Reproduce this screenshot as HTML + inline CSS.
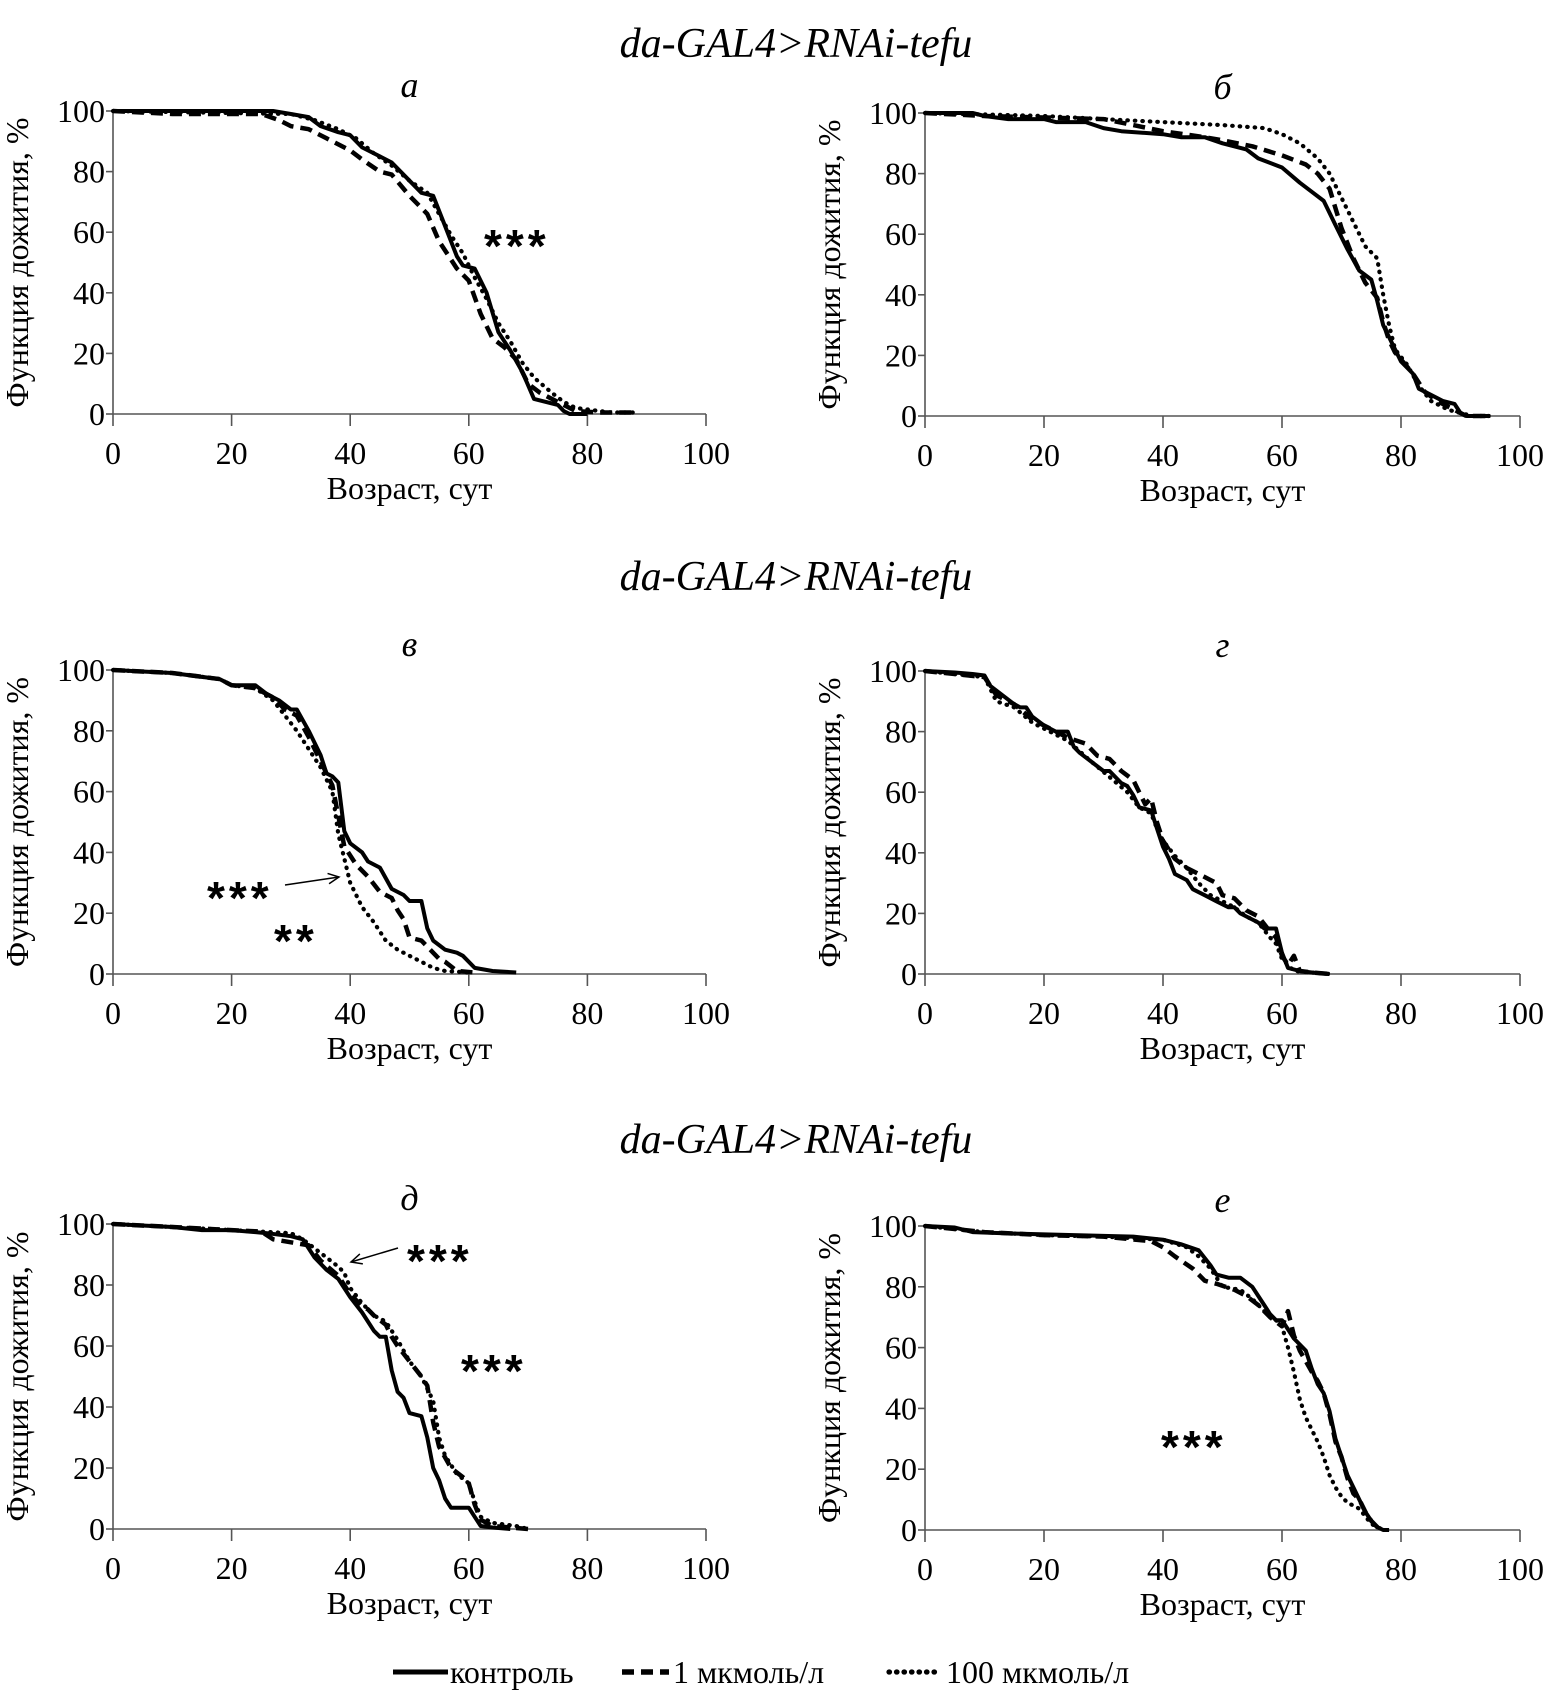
<!DOCTYPE html>
<html><head><meta charset="utf-8"><style>
html,body{margin:0;padding:0;background:#fff;}
svg{display:block;font-family:"Liberation Serif",serif;}
</style></head><body>
<svg id="fig" width="1549" height="1691" viewBox="0 0 1549 1691"></svg>
<script>
// ---- data (age in days, survival %) ----
const xTicks=[0,20,40,60,80,100];
const yTicks=[0,20,40,60,80,100];
// panel a
const a_ctrl_x=[0,27,30,33,35,38,40,42,45,47,50,52,54,56,58,59,61,63,65,67,69,71,73,75,76,77,80];
const a_ctrl_y=[100,100,99,98,95,93,92,88,85,83,77,73,72,62,52,49,48,40,27,21,14,5,4,3,1,0,0];
const a_d1_x=[0,10,25,28,30,33,36,40,42,45,47,50,53,55,58,60,62,64,66,68,70,72,75,78,82,88];
const a_d1_y=[100,99,99,97,95,94,91,87,84,80,79,72,66,57,48,44,33,25,22,18,10,7,4,1,0.5,0.5];
const a_d100_x=[0,30,34,38,41,44,47,50,53,55,57,59,61,63,65,67,69,71,74,76,78,82,84,88];
const a_d100_y=[100,99,97,94,91,86,82,77,73,66,59,53,45,38,30,24,17,12,7,4,2,1,0.5,0.5];
// panel б
const b_ctrl_x=[0,8,10,14,20,22,27,30,33,40,43,47,50,54,56,60,63,65,67,69,71,73,75,76,77,79,80,82,83,85,87,89,90,91,95];
const b_ctrl_y=[100,100,99,98,98,97,97,95,94,93,92,92,90,88,85,82,77,74,71,63,55,48,45,38,30,22,18,14,9,7,5,4,1,0,0];
const b_d1_x=[0,10,20,30,35,40,47,50,55,60,64,66,68,70,72,74,76,77,78,79,82,84,86,88,90,91,95];
const b_d1_y=[100,99,98.5,98,96,94,92,91,89,86,83,80,75,62,52,44,39,31,25,21,14,8,5,3,1,0,0];
const b_d100_x=[0,10,20,30,40,50,57,60,63,66,68,70,72,74,76,77,78,79,81,83,85,88,90,92,95];
const b_d100_y=[100,99.5,99,98,97,96,95,93,90,85,80,72,64,56,52,40,30,22,17,10,5,2,1,0,0];
// panel в
const c_ctrl_x=[0,10,14,18,20,24,26,28,30,31,33,35,36,37,38,39,40,42,43,45,47,49,50,52,53,54,56,58,59,61,64,68];
const c_ctrl_y=[100,99,98,97,95,95,92,90,87,87,80,72,66,65,63,47,43,40,37,35,28,26,24,24,15,11,8,7,6,2,1,0.5];
const c_d1_x=[0,10,18,20,24,27,29,31,33,35,37,38,39,41,43,45,47,48,49,50,52,53,55,56,58,61];
const c_d1_y=[100,99,97,95,94,91,87,85,78,70,62,52,42,36,32,27,25,21,18,12,11,9,5,4,1,0.5];
const c_d100_x=[0,10,18,20,24,27,29,31,33,35,37,38,39,40,42,44,46,48,50,52,54,56,60];
const c_d100_y=[100,99,97,95,94,90,85,80,74,68,60,46,38,30,22,17,11,8,6,4,2,1,0.5];
// panel г
const d_ctrl_x=[0,5,8,10,11,13,15,16,17,18,20,22,24,25,26,28,30,31,33,34,35,36,38,39,40,41,42,44,45,47,49,51,52,53,55,56,57,59,60,61,63,65,68];
const d_ctrl_y=[100,99.5,99,98.5,95,92,89,88,88,85,82,80,80,75,73,70,67,67,63,62,59,55,54,48,42,38,33,31,28,26,24,22,22,20,18,17,15,15,7,2,1,0.5,0];
const d_d1_x=[0,10,12,15,18,20,24,27,29,31,33,35,36,37,38,39,40,42,44,46,48,49,50,52,54,56,58,59,60,61,62,63,65,68];
const d_d1_y=[100,98,92,89,84,82,78,76,72,71,67,64,60,56,58,50,44,38,35,33,31,30,26,25,21,19,14,12,6,3,6,1,0.5,0];
const d_d100_x=[0,10,12,15,18,20,24,28,31,34,36,38,39,40,42,44,46,48,50,52,54,56,58,59,60,62,65,68];
const d_d100_y=[100,98,90,88,83,81,77,70,65,60,55,53,48,44,39,35,30,26,24,22,19,17,12,10,5,1,0.5,0];
// panel д
const e_ctrl_x=[0,10,15,20,26,30,32,33,34,36,38,40,42,44,45,46,47,48,49,50,52,53,54,55,56,57,60,61,62,64,67];
const e_ctrl_y=[100,99,98,98,97,96,95,92,89,85,82,76,71,65,63,63,52,45,43,38,37,30,20,16,10,7,7,4,1,0.5,0];
const e_d1_x=[0,10,20,25,27,30,33,35,38,40,42,43,44,46,47,48,50,52,53,54,55,57,59,60,61,62,64,67,70];
const e_d1_y=[100,99,98,97.5,95,94,93,88,83,77,73,72,70,67,63,60,55,50,47,35,27,20,17,15,8,3,1,0.5,0];
const e_d100_x=[0,10,20,30,32,34,36,38,39,40,42,44,46,48,50,52,54,55,56,58,60,61,62,64,68,70];
const e_d100_y=[100,99,98,97,95,92,89,86,84,79,74,70,68,62,55,50,42,30,24,18,15,9,4,2,1,0];
// panel е
const f_ctrl_x=[0,5,8,15,25,35,40,43,46,48,49,51,53,55,56,57,58,59,60,61,62,64,65,66,67,68,69,70,71,72,73,74,75,76,77,78];
const f_ctrl_y=[100,99.5,98,97.5,97,96.5,95.5,94,92,87,84,83,83,80,77,74,71,69,69,66,63,59,53,48,45,39,30,24,18,14,10,6,3,1,0,0];
const f_d1_x=[0,10,20,30,38,40,42,45,47,49,52,54,56,58,60,61,62,63,65,66,67,68,69,70,71,72,73,74,75,76,77];
const f_d1_y=[100,98,97,96.5,95,93,90,86,82,81,79,77,74,70,67,72,64,59,52,49,45,38,29,24,17,12,10,6,3,1,0];
const f_d100_x=[0,10,20,30,40,44,46,48,50,53,55,57,59,60,61,62,63,64,65,66,67,68,69,70,71,72,73,75,77];
const f_d100_y=[100,98,97,96.5,95.5,93,90,86,80,79,76,72,69,67,60,52,43,37,33,29,24,18,14,11,9,8,7,2,0];

const NS="http://www.w3.org/2000/svg";
const svg=document.getElementById('fig');
function mk(tag,attrs,parent){const e=document.createElementNS(NS,tag);for(const k in attrs)e.setAttribute(k,attrs[k]);(parent||svg).appendChild(e);return e;}
function txt(s,x,y,attrs,parent){const t=mk('text',Object.assign({x:x,y:y},attrs),parent);t.textContent=s;return t;}

const styles={ctrl:{w:4,dash:null,cap:'butt'},d1:{w:4.5,dash:'12 7',cap:'butt'},d100:{w:4.2,dash:'0.5 7',cap:'round'}};

function panel(name,letter,X0,X1,Y100,Y0,series){
  const g=mk('g',{});
  
  
  const sx=v=>X0+(X1-X0)*v/100, sy=v=>Y0-(Y0-Y100)*v/100;
  const lt=txt(letter,(X0+X1)/2,Y100-14,{'font-size':36,'font-style':'italic','text-anchor':'middle'},g);
  
  
  const ya=mk('line',{x1:X0,y1:Y100,x2:X0,y2:Y0,stroke:'#555','stroke-width':1.6},g);
  
  
  const xa=mk('line',{x1:X0,y1:Y0,x2:X1,y2:Y0,stroke:'#555','stroke-width':1.6},g);
  
  
  xTicks.forEach(v=>{
    const tk=mk('line',{x1:sx(v),y1:Y0,x2:sx(v),y2:Y0+12,stroke:'#555','stroke-width':1.6},g);
    
    
    const tl=txt(String(v),sx(v),Y0+50,{'font-size':32,'text-anchor':'middle'},g);
    
    
  });
  yTicks.forEach(v=>{
    const tk=mk('line',{x1:X0-7,y1:sy(v),x2:X0,y2:sy(v),stroke:'#555','stroke-width':1.6},g);
    
    
    const tl=txt(String(v),X0-8,sy(v)+11,{'font-size':32,'text-anchor':'end'},g);
    
    
  });
  const xt=txt('Возраст, сут',(X0+X1)/2,Y0+85,{'font-size':32,'text-anchor':'middle'},g);
  
  
  const ycx=X0-85, ycy=(Y0+Y100)/2;
  const yt=txt('Функция дожития, %',ycx,ycy,{'font-size':32,'text-anchor':'middle','transform':'rotate(-90 '+ycx+' '+ycy+')'},g);
  
  
  series.forEach(s=>{
    const st=styles[s.k];
    const pts=s.x.map((v,i)=>sx(v).toFixed(1)+','+sy(s.y[i]).toFixed(1)).join(' ');
    const a={points:pts,fill:'none',stroke:'#000','stroke-width':st.w,'stroke-linecap':st.cap,'stroke-linejoin':'round'};
    if(st.dash)a['stroke-dasharray']=st.dash;
    const pl=mk('polyline',a,g);
    
    
  });
  return {g,sx,sy};
}

const LX0=113,LX1=706,RX0=925,RX1=1520;
panel('a','а',LX0,LX1,111,414,[{k:'ctrl',x:a_ctrl_x,y:a_ctrl_y},{k:'d1',x:a_d1_x,y:a_d1_y},{k:'d100',x:a_d100_x,y:a_d100_y}]);
panel('b','б',RX0,RX1,113,416,[{k:'ctrl',x:b_ctrl_x,y:b_ctrl_y},{k:'d1',x:b_d1_x,y:b_d1_y},{k:'d100',x:b_d100_x,y:b_d100_y}]);
panel('v','в',LX0,LX1,670,974,[{k:'ctrl',x:c_ctrl_x,y:c_ctrl_y},{k:'d1',x:c_d1_x,y:c_d1_y},{k:'d100',x:c_d100_x,y:c_d100_y}]);
panel('g','г',RX0,RX1,671,974,[{k:'ctrl',x:d_ctrl_x,y:d_ctrl_y},{k:'d1',x:d_d1_x,y:d_d1_y},{k:'d100',x:d_d100_x,y:d_d100_y}]);
panel('d','д',LX0,LX1,1224,1529,[{k:'ctrl',x:e_ctrl_x,y:e_ctrl_y},{k:'d1',x:e_d1_x,y:e_d1_y},{k:'d100',x:e_d100_x,y:e_d100_y}]);
panel('e','е',RX0,RX1,1226,1530,[{k:'ctrl',x:f_ctrl_x,y:f_ctrl_y},{k:'d1',x:f_d1_x,y:f_d1_y},{k:'d100',x:f_d100_x,y:f_d100_y}]);

// row titles
[57,590,1153].forEach(y=>{
  const t=txt('da-GAL4>RNAi-tefu',796,y,{'font-size':42,'font-style':'italic','text-anchor':'middle'});
  
  
});
// significance marks
function star(s,x,y){const t=txt(s,x,y,{'font-size':46,'font-weight':'bold','font-family':'Liberation Sans, sans-serif','letter-spacing':'4'});
  
  }
star('***',484,262);
star('***',207,914);
star('**',274,957);
star('***',407,1277);
star('***',461,1387);
star('***',1161,1463);
// arrows
function arrow(x1,y1,x2,y2){
  const l=mk('line',{x1:x1,y1:y1,x2:x2,y2:y2,stroke:'#000','stroke-width':1.5});
  
  
  const ang=Math.atan2(y2-y1,x2-x1),L=12;
  const p=mk('polyline',{points:(x2-L*Math.cos(ang-0.45))+','+(y2-L*Math.sin(ang-0.45))+' '+x2+','+y2+' '+(x2-L*Math.cos(ang+0.45))+','+(y2-L*Math.sin(ang+0.45)),fill:'none',stroke:'#000','stroke-width':1.5});
  
  
}
arrow(285,885,339,877);
arrow(398,1248,351,1262);

// legend
const lg=mk('g',{});


[['ctrl',393,448,450,'контроль'],['d1',622,669,673,'1 мкмоль/л'],['d100',889,938,946,'100 мкмоль/л']].forEach(e=>{
  const st=styles[e[0]];
  const a={x1:e[1],y1:1672,x2:e[2],y2:1672,stroke:'#000','stroke-width':st.w+1,'stroke-linecap':st.cap};
  if(st.dash)a['stroke-dasharray']=st.dash;
  const l=mk('line',a,lg);
  
  
  const t=txt(e[4],e[3],1683,{'font-size':32},lg);
  
  
});
</script>
</body></html>
